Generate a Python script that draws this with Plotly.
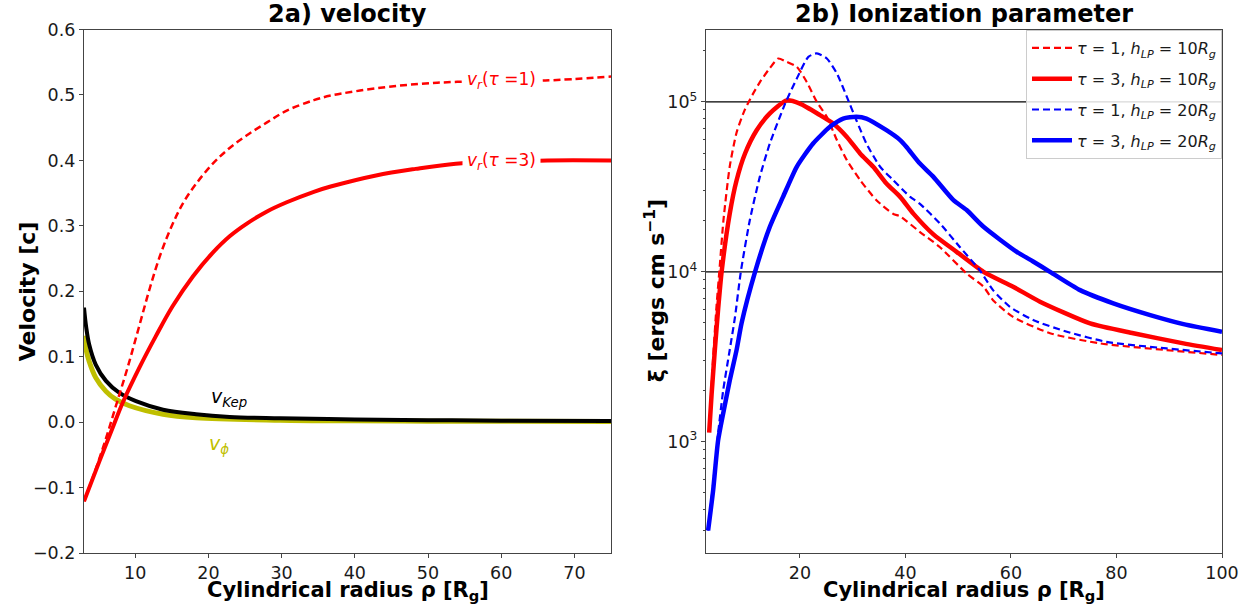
import plotly.graph_objects as go

# ---------------- Panel 2a: velocity ----------------
vr1_x = [3.0, 4.5, 6.0, 7.5, 9.0, 10.5, 12.0, 13.5, 15.0, 16.5, 18.3, 20.6, 22.9, 25.2, 28.0,
         30.7, 34.4, 36.7, 43.5, 49.0, 54.0, 60.0, 66.0, 75.0]
vr1_y = [-0.121, -0.075, -0.025, 0.030, 0.085, 0.145, 0.205, 0.258, 0.300, 0.334, 0.364, 0.395,
         0.419, 0.438, 0.458, 0.476, 0.492, 0.499, 0.511, 0.517, 0.520, 0.521, 0.522, 0.528]

vr3_x = [3.0, 5.1, 6.9, 8.3, 10.6, 12.8, 15.1, 17.9, 20.6, 22.9, 25.2, 28.0, 30.7, 34.4, 36.7,
         42.9, 48.3, 53.8, 60.0, 66.3, 75.0]
vr3_y = [-0.121, -0.060, -0.009, 0.030, 0.084, 0.131, 0.177, 0.223, 0.259, 0.284, 0.303, 0.322,
         0.336, 0.352, 0.360, 0.377, 0.387, 0.395, 0.398, 0.400, 0.400]

vkep_x = [3.0, 3.3, 3.7, 4.6, 6.0, 7.8, 10.1, 13.8, 18.3, 22.9, 29.8, 40.0, 50.0, 60.0, 75.0]
vkep_y = [0.175, 0.145, 0.119, 0.088, 0.063, 0.045, 0.032, 0.019, 0.012, 0.008, 0.006, 0.004,
          0.003, 0.0022, 0.0016]

vphi_x = [3.0, 3.3, 3.7, 4.6, 6.0, 7.3, 9.2, 13.8, 18.3, 29.8, 40.0, 50.0, 60.0, 75.0]
vphi_y = [0.132, 0.110, 0.093, 0.068, 0.047, 0.035, 0.025, 0.012, 0.0066, 0.003, 0.002, 0.0015,
          0.0012, 0.001]

# ---------------- Panel 2b: ionization parameter ----------------
xi_t1_h10_x = [2.8, 3.56, 4.2, 4.8, 5.5, 6.7, 8.0, 9.5, 11.0, 12.5, 14.3, 15.9, 17.5, 19.4, 21.3,
               23.2, 25.1, 27.0, 28.9, 31.4, 34.5, 37.7, 39.0, 42.7, 46.5, 51.6, 54.8, 56.6,
               60.4, 67.4, 76.9, 89.5, 100.0]
xi_t1_h10_y = [1150, 3160, 6310, 10700, 20000, 41700, 66100, 89100, 110000, 132000, 158000,
               180000, 172000, 161000, 131000, 100000, 81700, 59600, 45400, 34700, 26400, 21900,
               21200, 17200, 14000, 9770, 8170, 6810, 5430, 4350, 3790, 3460, 3240]

xi_t3_h10_x = [2.8, 3.26, 3.9, 4.5, 5.16, 6.7, 8.0, 9.6, 11.8, 14.3, 17.5, 20.0, 23.8, 26.3,
               28.9, 31.4, 33.9, 36.4, 39.0, 41.5, 45.3, 49.7, 54.8, 60.4, 65.5, 75.0, 83.2,
               92.7, 100.0]
xi_t3_h10_y = [1130, 1900, 3550, 6030, 10000, 22000, 34600, 49700, 68100, 85500, 102000,
               97700, 83600, 74600, 62200, 49700, 41500, 33100, 27600, 22000, 16600, 13100,
               10000, 8170, 6670, 4970, 4350, 3790, 3460]

xi_t1_h20_x = [2.6, 3.56, 4.5, 5.46, 6.7, 7.7, 8.8, 10.5, 12.4, 14.3, 17.2, 19.4, 21.6, 23.2,
               25.1, 27.0, 28.9, 30.7, 32.6, 35.2, 37.7, 40.9, 42.7, 46.5, 50.3, 54.1, 56.6,
               59.8, 64.2, 70.6, 78.1, 89.5, 100.0]
xi_t1_h20_y = [300, 569, 1120, 2010, 3470, 5430, 10000, 20100, 36200, 56900, 97700, 137000,
               184000, 193000, 180000, 147000, 107000, 78000, 56900, 41500, 34600, 27600, 25200,
               19300, 14000, 10200, 7800, 6220, 5200, 4440, 3870, 3540, 3310]

xi_t3_h20_x = [2.6, 3.56, 4.5, 5.8, 6.7, 8.0, 8.95, 11.5, 14.3, 16.8, 19.4, 22.5, 25.7, 28.2,
               30.7, 32.6, 36.4, 39.0, 40.2, 42.7, 45.3, 49.1, 51.6, 54.8, 61.1, 64.2, 67.4,
               73.1, 79.4, 86.4, 92.7, 100.0]
xi_t3_h20_y = [300, 520, 1020, 1660, 2290, 3470, 5000, 10000, 18400, 27600, 41500, 56900, 71300,
               79800, 81700, 79800, 68100, 59600, 54300, 43500, 36200, 26400, 23100, 18400,
               13100, 11500, 10000, 7800, 6520, 5560, 4920, 4440]

ref_levels = [1e4, 1e5]

left_xticks = [10, 20, 30, 40, 50, 60, 70]
left_yticks = [-0.2, -0.1, 0.0, 0.1, 0.2, 0.3, 0.4, 0.5, 0.6]
right_xticks = [20, 40, 60, 80, 100]
right_yticks = [1e3, 1e4, 1e5]
right_yticktext = ["10<sup>3</sup>", "10<sup>4</sup>", "10<sup>5</sup>"]
right_yminor = [200, 300, 400, 500, 600, 700, 800, 900,
                2000, 3000, 4000, 5000, 6000, 7000, 8000, 9000,
                20000, 30000, 40000, 50000, 60000, 70000, 80000, 90000, 200000]

legend_names = [
    "<i>τ</i> = 1, <i>h<sub>LP</sub></i> = 10<i>R<sub>g</sub></i>",
    "<i>τ</i> = 3, <i>h<sub>LP</sub></i> = 10<i>R<sub>g</sub></i>",
    "<i>τ</i> = 1, <i>h<sub>LP</sub></i> = 20<i>R<sub>g</sub></i>",
    "<i>τ</i> = 3, <i>h<sub>LP</sub></i> = 20<i>R<sub>g</sub></i>",
]

RED = "#ff0000"
BLUE = "#0000ff"
OLIVE = "#bfbf00"
FONT = "DejaVu Sans"
W, H = 1253, 609

fig = go.Figure()

# Left panel traces
fig.add_trace(go.Scatter(x=vphi_x, y=vphi_y, mode="lines", line=dict(color=OLIVE, width=5, shape="spline"),
                         xaxis="x", yaxis="y", showlegend=False))
fig.add_trace(go.Scatter(x=vkep_x, y=vkep_y, mode="lines", line=dict(color="black", width=4, shape="spline"),
                         xaxis="x", yaxis="y", showlegend=False))
fig.add_trace(go.Scatter(x=vr1_x, y=vr1_y, mode="lines",
                         line=dict(color=RED, width=2.5, dash="7px,4px", shape="spline"),
                         xaxis="x", yaxis="y", showlegend=False))
fig.add_trace(go.Scatter(x=vr3_x, y=vr3_y, mode="lines", line=dict(color=RED, width=4, shape="spline"),
                         xaxis="x", yaxis="y", showlegend=False))

# Right panel traces
series = [
    (xi_t1_h10_x, xi_t1_h10_y, RED, 2.2, "7px,4px"),
    (xi_t3_h10_x, xi_t3_h10_y, RED, 4.5, "solid"),
    (xi_t1_h20_x, xi_t1_h20_y, BLUE, 2.2, "7px,4px"),
    (xi_t3_h20_x, xi_t3_h20_y, BLUE, 4.5, "solid"),
]
for i, ((sx, sy, col, wid, dash), name) in enumerate(zip(series, legend_names)):
    fig.add_trace(go.Scatter(x=sx, y=sy, mode="lines", name=name, legendgroup=f"g{i}",
                             line=dict(color=col, width=wid, dash=dash, shape="spline", smoothing=0.6),
                             xaxis="x2", yaxis="y2"))

for lvl in ref_levels:
    fig.add_shape(type="line", xref="x2 domain", yref="y2", x0=0, x1=1, y0=lvl, y1=lvl,
                  line=dict(color="black", width=1.3), layer="below")

xd1 = [84 / W, 611 / W]
xd2 = [706 / W, 1222 / W]
yd = [1 - 553 / H, 1 - 29.5 / H]

axis_common = dict(showline=True, linecolor="#444444", linewidth=1.2, mirror=True, ticks="outside",
                   ticklen=4, tickwidth=1, tickcolor="#444444", showgrid=False, zeroline=False,
                   automargin=False,
                   tickfont=dict(family=FONT, size=17.5, color="#1a1a1a"))

fig.update_layout(
    width=W, height=H,
    margin=dict(l=0, r=0, t=0, b=0, autoexpand=False),
    paper_bgcolor="white", plot_bgcolor="white",
    font=dict(family=FONT, color="black"),
    xaxis=dict(domain=xd1, range=[3, 75], tickvals=left_xticks, anchor="y", **axis_common),
    yaxis=dict(domain=yd, range=[-0.2, 0.6], tickvals=left_yticks, tickformat=".1f", anchor="x", **axis_common),
    xaxis2=dict(domain=xd2, range=[2.2, 100], tickvals=right_xticks, anchor="y2", **axis_common),
    yaxis2=dict(domain=yd, type="log", range=[2.345, 5.426], tickvals=right_yticks, ticktext=right_yticktext,
                anchor="x2",
                minor=dict(ticks="outside", ticklen=2, tickcolor="#444444", tickvals=right_yminor),
                **axis_common),
    legend=dict(x=1222 / W, xanchor="right", y=1 - 30 / H, yanchor="top",
                bgcolor="rgba(255,255,255,0.85)", bordercolor="#cccccc", borderwidth=1,
                font=dict(family=FONT, size=16, color="#1a1a1a"), itemwidth=40, tracegroupgap=7),
)

annotations = [
    dict(text="<b>2a) velocity</b>", x=(xd1[0] + xd1[1]) / 2, y=1 - 14 / H, xref="paper", yref="paper",
         showarrow=False, font=dict(size=24, family=FONT), xanchor="center", yanchor="middle"),
    dict(text="<b>2b) Ionization parameter</b>", x=(xd2[0] + xd2[1]) / 2, y=1 - 14 / H, xref="paper",
         yref="paper", showarrow=False, font=dict(size=24, family=FONT), xanchor="center", yanchor="middle"),
    dict(text="<b>Cylindrical radius ρ [R<sub>g</sub>]</b>", x=(xd1[0] + xd1[1]) / 2, y=1 - 591 / H,
         xref="paper", yref="paper", showarrow=False, font=dict(size=21, family=FONT),
         xanchor="center", yanchor="middle"),
    dict(text="<b>Cylindrical radius ρ [R<sub>g</sub>]</b>", x=(xd2[0] + xd2[1]) / 2, y=1 - 591 / H,
         xref="paper", yref="paper", showarrow=False, font=dict(size=21, family=FONT),
         xanchor="center", yanchor="middle"),
    dict(text="<b>Velocity [c]</b>", x=27 / W, y=(yd[0] + yd[1]) / 2, xref="paper", yref="paper",
         showarrow=False, textangle=-90, font=dict(size=22, family=FONT), xanchor="center", yanchor="middle"),
    dict(text="<b>ξ [ergs cm s<sup>−1</sup>]</b>", x=655 / W, y=(yd[0] + yd[1]) / 2, xref="paper",
         yref="paper", showarrow=False, textangle=-90, font=dict(size=22, family=FONT),
         xanchor="center", yanchor="middle"),
    dict(text="<i>v<sub>r</sub></i>(<i>τ</i> =1)", x=60.0, y=0.522, xref="x", yref="y", showarrow=False,
         font=dict(size=17, family=FONT, color=RED), bgcolor="white", borderpad=4),
    dict(text="<i>v<sub>r</sub></i>(<i>τ</i> =3)", x=60.0, y=0.398, xref="x", yref="y", showarrow=False,
         font=dict(size=17, family=FONT, color=RED), bgcolor="white", borderpad=4),
    dict(text="<i>v<sub>Kep</sub></i>", x=22.8, y=0.037, xref="x", yref="y", showarrow=False,
         font=dict(size=19, family=FONT, color="black")),
    dict(text="<i>v<sub>ϕ</sub></i>", x=21.4, y=-0.034, xref="x", yref="y", showarrow=False,
         font=dict(size=19, family=FONT, color=OLIVE)),
]
fig.update_layout(annotations=annotations)

fig.write_html("out.html", config={"displayModeBar": False},
               post_script="document.body.style.margin='0';document.body.style.padding='0';"
                           "document.body.style.overflow='hidden';")
